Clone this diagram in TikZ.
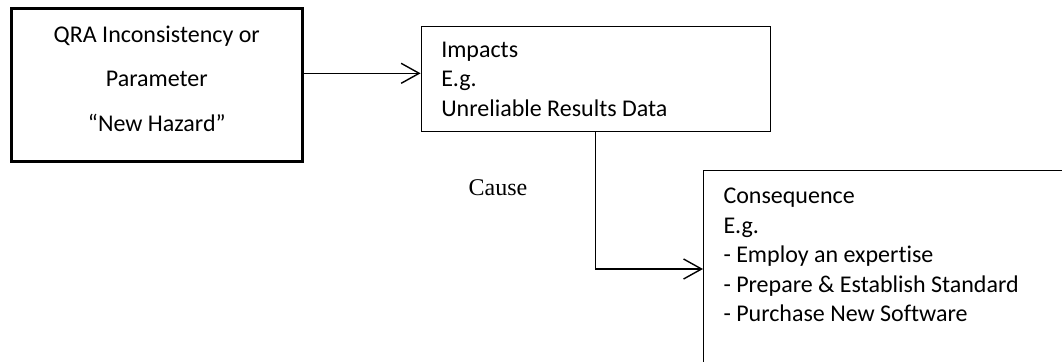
\documentclass[tikz,border=0pt]{standalone}
\usepackage{fontspec}
\setmainfont{Carlito}[Ligatures={TeX,NoCommon}]
\newfontfamily\causefont{Liberation Serif}
\usetikzlibrary{positioning,arrows.meta}
\tikzset{
  line/.style={-{Straight Barb[length=9pt,width=10pt]}, line width=0.7pt},
  box/.style={draw, align=left, inner xsep=10pt, inner ysep=0pt, font=\fontsize{12pt}{14.75pt}\selectfont,
    execute at begin node={\spaceskip=\fontdimen2\font\xspaceskip=\fontdimen2\font}},
  thickbox/.style={box, line width=1.3pt, align=center, inner xsep=0pt, font=\fontsize{12pt}{22.25pt}\selectfont},
  impactbox/.style={box, line width=0.65pt, text width=154.5pt, text height=15.25pt, text depth=37.25pt},
  % open box, runs off the page at right and bottom
  consbox/.style={box, line width=0.5pt, text width=170pt, text height=16.5pt, text depth=90pt}
}
\begin{document}
\begin{tikzpicture}[x=0.5pt, y=-0.5pt]
  \useasboundingbox (0,0) rectangle (1062,361);
  \node[thickbox, anchor=north west, text width=145.5pt, text height=16.85pt, text depth=59.65pt] (qra) at (10,7)
    {QRA Inconsistency or\\Parameter\\“New Hazard”};
  \node[impactbox, right=58.5pt of qra.north east, anchor=north west, yshift=-9.5pt] (impacts)
    {Impacts\\E.g.\\Unreliable Results Data};
  \node[consbox, anchor=north west] (cons) at (703,170)
    {Consequence\\E.g.\\- Employ an expertise\\- Prepare \& Establish Standard\\- Purchase New Software};
  \node[font=\causefont\fontsize{12pt}{14pt}\selectfont] (cause) at (498,188) {Cause};
  % wiring
  \draw[line] ([yshift=5.75pt]qra.east) -- ([yshift=5.75pt]qra.east -| impacts.west);
  \draw[line] (impacts.south) |- ([yshift=-49.5pt]cons.north west);
\end{tikzpicture}
\end{document}
